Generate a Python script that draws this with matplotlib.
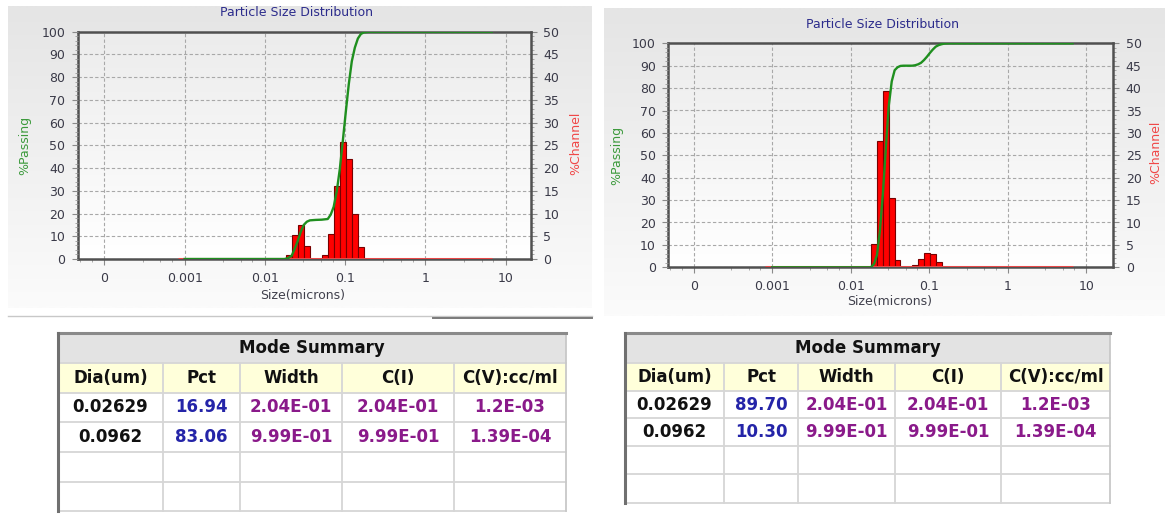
import numpy as np
import matplotlib
matplotlib.use("Agg")
import matplotlib.pyplot as plt
from matplotlib.patches import Rectangle
from matplotlib.ticker import FixedLocator, FixedFormatter, MultipleLocator, LogLocator

W, H = 1165, 516

# channel bins (microns), same for both runs
bin_size = [0.0198, 0.0235, 0.0280, 0.0333, 0.0395, 0.0469, 0.0557,
            0.0662, 0.0787, 0.0935, 0.111, 0.132, 0.157]
left_channel = [0.9, 5.2, 7.4, 2.9, 0, 0, 0.9, 5.5, 16.1, 25.8, 22.1, 10.0, 2.6]
right_channel = [5.2, 28.1, 39.4, 15.5, 1.7, 0, 0, 0.6, 1.9, 3.2, 2.9, 1.1, 0]

# size range covered by the channel trace
chan_range = [0.00082, 6.7]

# cumulative %passing
left_cum_size = [0.001, 0.0175, 0.0195, 0.0216, 0.0235, 0.0257, 0.028, 0.0305,
                 0.0333, 0.0363, 0.043, 0.051, 0.0607, 0.066, 0.072, 0.0787,
                 0.0857, 0.0935, 0.102, 0.111, 0.121, 0.132, 0.144, 0.157,
                 0.171, 0.2, 6.7]
left_cum_pass = [0, 0, 0.4, 1.5, 4.5, 8, 12, 15, 16.4, 17, 17.2, 17.3, 17.6,
                 19.5, 23, 30, 39.5, 52, 65, 77, 87, 93, 97, 99, 99.7, 100, 100]
right_cum_size = [0.001, 0.018, 0.0198, 0.0216, 0.0235, 0.0257, 0.028, 0.0305,
                  0.0333, 0.0363, 0.0395, 0.043, 0.0469, 0.0557, 0.0607, 0.0662,
                  0.072, 0.0787, 0.0857, 0.0935, 0.102, 0.111, 0.121, 0.132,
                  0.144, 0.157, 0.18, 6.7]
right_cum_pass = [0, 0, 1.5, 5.5, 16, 33, 53, 72, 83, 88, 89.3, 89.9, 90, 90,
                  90, 90.2, 90.6, 91.3, 92.5, 94, 95.7, 97.2, 98.5, 99.2, 99.6,
                  99.9, 100, 100]

tick_pos = [1e-4, 1e-3, 1e-2, 1e-1, 1, 10]
tick_lab = ["0", "0.001", "0.01", "0.1", "1", "10"]

mode_cols = ["Dia(um)", "Pct", "Width", "C(I)", "C(V):cc/ml"]
left_modes = [["0.02629", "16.94", "2.04E-01", "2.04E-01", "1.2E-03"],
              ["0.0962", "83.06", "9.99E-01", "9.99E-01", "1.39E-04"]]
right_modes = [["0.02629", "89.70", "2.04E-01", "2.04E-01", "1.2E-03"],
               ["0.0962", "10.30", "9.99E-01", "9.99E-01", "1.39E-04"]]
col_colors = ["#111111", "#2424a8", "#8a1a8a", "#8a1a8a", "#8a1a8a"]

plt.rcParams['font.family'] = ['DejaVu Sans']

fig = plt.figure(figsize=(W / 100, H / 100), dpi=100)
fig.patch.set_facecolor('white')

# background layer in pixel coordinates
bg = fig.add_axes([0, 0, 1, 1])
bg.set_zorder(0)
bg.axis('off')


def to_fig(box):
    x0, y0, x1, y1 = box
    return [x0 / W, 1 - y1 / H, (x1 - x0) / W, (y1 - y0) / H]


def gradient(box, top, bottom):
    x0, y0, x1, y1 = box
    c0 = np.array(matplotlib.colors.to_rgb(top))
    c1 = np.array(matplotlib.colors.to_rgb(bottom))
    t = np.linspace(0, 1, 64)[:, None, None]
    img = c0 * (1 - t) + c1 * t
    bg.imshow(img, extent=(x0, x1, y1, y0), origin='upper', aspect='auto',
              interpolation='bilinear', zorder=0)


def draw_psd(box, panel, xlim, channel, cum_size, cum_pass, title_xy,
             pass_xy, chan_xy, size_xy):
    gradient(panel, '#e5e5e5', '#fbfbfb')
    gradient(box, '#ececec', '#ffffff')

    ax = fig.add_axes(to_fig(box))
    ax.set_zorder(1)
    ax.patch.set_visible(False)
    ax.set_xscale('log')

    logs = np.log10(bin_size)
    step = np.diff(logs).mean()
    lo = 10 ** (logs - step / 2)
    hi = 10 ** (logs + step / 2)
    ch = np.array(channel)
    keep = ch > 0
    ax.bar(lo[keep], ch[keep], width=(hi - lo)[keep], align='edge',
           color='#ff0000', edgecolor='#780000', linewidth=0.8, zorder=3)
    ax.plot(chan_range, [0, 0], color='#e84848', lw=2.2, zorder=4,
            solid_capstyle='butt')
    ax.set_ylim(0, 50)
    ax.set_xlim(*xlim)

    ax.grid(True, which='major', color='#a8a8a8', ls=(0, (3, 2)), lw=0.8)
    ax.set_axisbelow(True)

    axp = ax.twinx()
    axp.plot(cum_size, cum_pass, color='#1f8f1f', lw=1.7, zorder=4)
    axp.set_ylim(0, 100)
    for s in axp.spines.values():
        s.set_visible(False)

    ax.yaxis.tick_right()
    axp.yaxis.tick_left()
    ax.set_yticks(range(0, 51, 5))
    ax.yaxis.set_minor_locator(MultipleLocator(1))
    axp.set_yticks(range(0, 101, 10))
    axp.yaxis.set_minor_locator(MultipleLocator(2))
    ax.xaxis.set_major_locator(FixedLocator(tick_pos))
    ax.xaxis.set_major_formatter(FixedFormatter(tick_lab))
    ax.xaxis.set_minor_locator(LogLocator(base=10, subs=(3, 5, 7)))
    ax.xaxis.set_minor_formatter(FixedFormatter([]))

    for a in (ax, axp):
        a.tick_params(which='major', length=4, width=0.8, color='#8a8a8a',
                      labelsize=9, labelcolor='#3a3a48', pad=5)
        a.tick_params(which='minor', length=2, width=0.6, color='#9a9a9a')
    for s in ax.spines.values():
        s.set_color('#505050')
        s.set_linewidth(1.8)

    bg.text(*title_xy, "Particle Size Distribution", color='#2c2c8c',
            fontsize=9, ha='center', va='center')
    bg.text(*pass_xy, "%Passing", color='#3c9a3c', fontsize=9,
            rotation=90, ha='center', va='center')
    bg.text(*chan_xy, "%Channel", color='#f04848', fontsize=9,
            rotation=90, ha='center', va='center')
    bg.text(*size_xy, "Size(microns)", color='#40404c', fontsize=9,
            ha='center', va='center')


def draw_table(cols, rows_y, data):
    x0, x1 = cols[0], cols[-1]
    bg.add_patch(Rectangle((x0, rows_y[0]), x1 - x0, rows_y[1] - rows_y[0],
                           fc='#e3e3e3', ec='none', zorder=1))
    bg.add_patch(Rectangle((x0, rows_y[1]), x1 - x0, rows_y[2] - rows_y[1],
                           fc='#ffffda', ec='none', zorder=1))
    bg.add_patch(Rectangle((x0, rows_y[2]), x1 - x0, rows_y[-1] - rows_y[2],
                           fc='white', ec='none', zorder=1))
    for y in rows_y[1:]:
        bg.plot([x0, x1], [y, y], color='#d6d6d6', lw=1.3, zorder=2)
    for x in cols[1:-1]:
        bg.plot([x, x], [rows_y[1], rows_y[-1]], color='#d6d6d6', lw=1.3,
                zorder=2)
    bg.plot([x1, x1], [rows_y[0], rows_y[-1]], color='#c8c8c8', lw=1.3,
            zorder=2)
    bg.plot([x0, x1], [rows_y[0], rows_y[0]], color='#8a8a8a', lw=2.2,
            zorder=3)
    bg.plot([x0, x0], [rows_y[0], rows_y[-1]], color='#707070', lw=2.2,
            zorder=3)

    bg.text((x0 + x1) / 2, (rows_y[0] + rows_y[1]) / 2, "Mode Summary",
            fontsize=12, fontweight='bold', color='#111111',
            ha='center', va='center', zorder=4)
    mids = [(a + b) / 2 for a, b in zip(cols[:-1], cols[1:])]
    for xm, name in zip(mids, mode_cols):
        bg.text(xm, (rows_y[1] + rows_y[2]) / 2, name, fontsize=12,
                fontweight='bold', color='#111111', ha='center',
                va='center', zorder=4)
    for r, row in enumerate(data):
        ym = (rows_y[2 + r] + rows_y[3 + r]) / 2
        for xm, val, c in zip(mids, row, col_colors):
            bg.text(xm, ym, val, fontsize=12, fontweight='bold', color=c,
                    ha='center', va='center', zorder=4)


draw_psd((77.7, 31.7, 531, 259), (8, 6, 592, 308),
         (10 ** -4.332, 10 ** 1.315), left_channel, left_cum_size,
         left_cum_pass, (296, 13), (25, 145), (576, 143), (303, 296))
draw_psd((668.3, 43.3, 1113.3, 267.3), (604, 8, 1165, 316),
         (10 ** -4.324, 10 ** 1.345), right_channel, right_cum_size,
         right_cum_pass, (882, 25), (617, 155), (1156, 152), (890, 302))

bg.plot([8, 592], [316, 316], color='#c8c8c8', lw=1.0, zorder=1)
bg.plot([433, 592], [317.5, 317.5], color='#7a7a7a', lw=1.4, zorder=1)

draw_table([58, 163, 240, 342, 454, 566], [333, 363, 393, 422, 452, 482, 511],
           left_modes)
draw_table([625, 724, 798, 895, 1001, 1110], [333, 363, 391, 418, 446, 474, 503],
           right_modes)

bg.set_xlim(0, W)
bg.set_ylim(H, 0)

fig.savefig('out.png', dpi=100)
